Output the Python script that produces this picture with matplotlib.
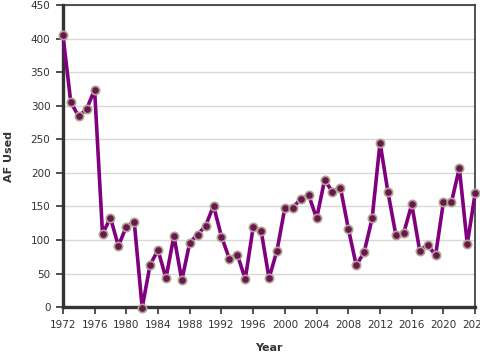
import matplotlib
matplotlib.use("Agg")
import matplotlib.pyplot as plt

years = list(range(1972, 2025))
af_used = [406, 305, 284, 295, 324, 109, 133, 91, 120, 127,
           -1, 63, 85, 43, 106, 40, 96, 108, 121, 151,
           105, 72, 78, 42, 119, 114, 43, 84, 148, 148,
           161, 167, 132, 189, 172, 178, 117, 62, 82, 132,
           245, 171, 107, 111, 153, 84, 93, 77, 157, 156,
           207, 94, 170]

xticks = list(range(1972, 2025, 4))
yticks = list(range(0, 451, 50))

plt.rcParams['font.family'] = ['DejaVu Sans']

fig = plt.figure(figsize=(4.8, 3.6), dpi=100)
ax = fig.add_axes([0.131, 0.147, 0.859, 0.839])

ax.plot(years, af_used, color="#800080", lw=2.6, zorder=3,
        marker="o", markersize=6, markerfacecolor="#6b1552",
        markeredgecolor="#b0a68e", markeredgewidth=1.2, clip_on=False)

ax.set_xlim(1972, 2024)
ax.set_ylim(0, 450)
ax.set_xticks(xticks)
ax.set_yticks(yticks)
ax.tick_params(labelsize=7.5, colors="#333333", length=5, width=1.2, pad=4)
ax.yaxis.grid(True, color="#d8d8d8", lw=1)
ax.set_axisbelow(True)

for s in ["left", "bottom"]:
    ax.spines[s].set_linewidth(2.4)
    ax.spines[s].set_color("#333333")
for s in ["top", "right"]:
    ax.spines[s].set_linewidth(1.2)
    ax.spines[s].set_color("#333333")

ax.set_xlabel("Year", fontsize=8, fontweight="bold", color="#333333", labelpad=10)
ax.set_ylabel("AF Used", fontsize=8, fontweight="bold", color="#333333", labelpad=12)

fig.savefig("out.png")
